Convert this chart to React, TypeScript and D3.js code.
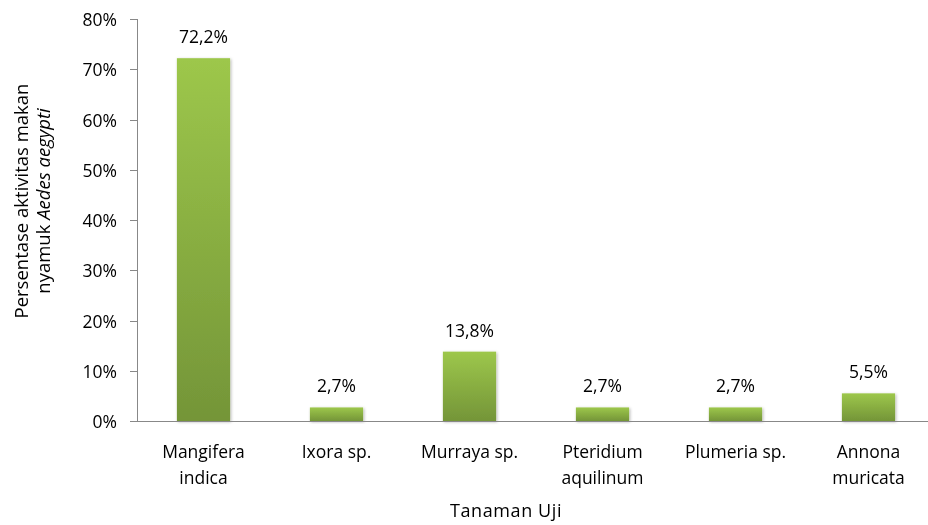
import React from "react";
import * as d3 from "d3";

const categories = [
  ["Mangifera", "indica"],
  ["Ixora sp."],
  ["Murraya sp."],
  ["Pteridium", "aquilinum"],
  ["Plumeria sp."],
  ["Annona", "muricata"],
];
const values = [72.2, 2.7, 13.8, 2.7, 2.7, 5.5];
const yTicks = [0, 10, 20, 30, 40, 50, 60, 70, 80];

const W = 928;
const H = 525;
const margin = { top: 19, right: -7, bottom: 104, left: 137 };
const font = "'Open Sans', Lato, sans-serif";

export default function App() {
  const innerW = W - margin.left - margin.right;
  const innerH = H - margin.top - margin.bottom;
  const ids = categories.map((_, i) => String(i));

  const x = d3.scaleBand().domain(ids).range([0, innerW]).paddingInner(0.6).paddingOuter(0.3);
  const y = d3.scaleLinear().domain([0, 80]).range([innerH, 0]);

  const fmt = (v: number) => v.toFixed(1).replace(".", ",") + "%";
  const fs = 17.5;

  return (
    <div style={{ position: "fixed", left: 0, top: 0 }}>
      <svg width={W} height={H} style={{ display: "block", fontFamily: font }}>
        <defs>
          <linearGradient id="barGrad" x1="0" y1="0" x2="0" y2="1">
            <stop offset="0%" stopColor="#9dc74b" />
            <stop offset="100%" stopColor="#749538" />
          </linearGradient>
          <filter id="shadow" x="-20%" y="-20%" width="140%" height="140%">
            <feDropShadow dx="1" dy="1" stdDeviation="1.5" floodColor="#000" floodOpacity="0.3" />
          </filter>
        </defs>
        <g transform={`translate(${margin.left},${margin.top})`}>
          {/* y axis */}
          <line x1={0.5} x2={0.5} y1={y(80)} y2={y(0)} stroke="#888" />
          {yTicks.map((t) => (
            <g key={t} transform={`translate(0,${Math.round(y(t)) + 0.5})`}>
              <line x1={-7} x2={0} stroke="#888" />
              <text x={-20} dy="0.36em" textAnchor="end" fontSize={fs} fill="#000">
                {t}%
              </text>
            </g>
          ))}
          {/* bars */}
          {values.map((v, i) => (
            <g key={i}>
              <rect
                x={x(ids[i])}
                y={y(v)}
                width={x.bandwidth()}
                height={y(0) - y(v)}
                fill="url(#barGrad)"
                filter="url(#shadow)"
              />
              <text
                x={(x(ids[i]) as number) + x.bandwidth() / 2}
                y={y(v) - 15}
                textAnchor="middle"
                fontSize={fs}
                fill="#000"
              >
                {fmt(v)}
              </text>
            </g>
          ))}
          {/* x axis */}
          <line x1={0} x2={innerW} y1={Math.round(y(0)) + 0.5} y2={Math.round(y(0)) + 0.5} stroke="#888" />
          {categories.map((lines, i) => (
            <text
              key={i}
              x={(x(ids[i]) as number) + x.bandwidth() / 2}
              y={innerH + 37}
              textAnchor="middle"
              fontSize={fs}
              fill="#000"
            >
              {lines.map((l, j) => (
                <tspan key={j} x={(x(ids[i]) as number) + x.bandwidth() / 2} dy={j === 0 ? 0 : 26}>
                  {l}
                </tspan>
              ))}
            </text>
          ))}
        </g>
        <text x={506} y={517} textAnchor="middle" fontSize={18} letterSpacing={0.6} fill="#000">
          Tanaman Uji
        </text>
        <g transform="translate(0,201) rotate(-90)">
          <text x={0} y={28} textAnchor="middle" fontSize={18.5} fill="#000">
            Persentase aktivitas makan
          </text>
          <text x={0} y={50} textAnchor="middle" fontSize={18.5} fill="#000">
            nyamuk <tspan fontStyle="italic">Aedes aegypti</tspan>
          </text>
        </g>
      </svg>
    </div>
  );
}
